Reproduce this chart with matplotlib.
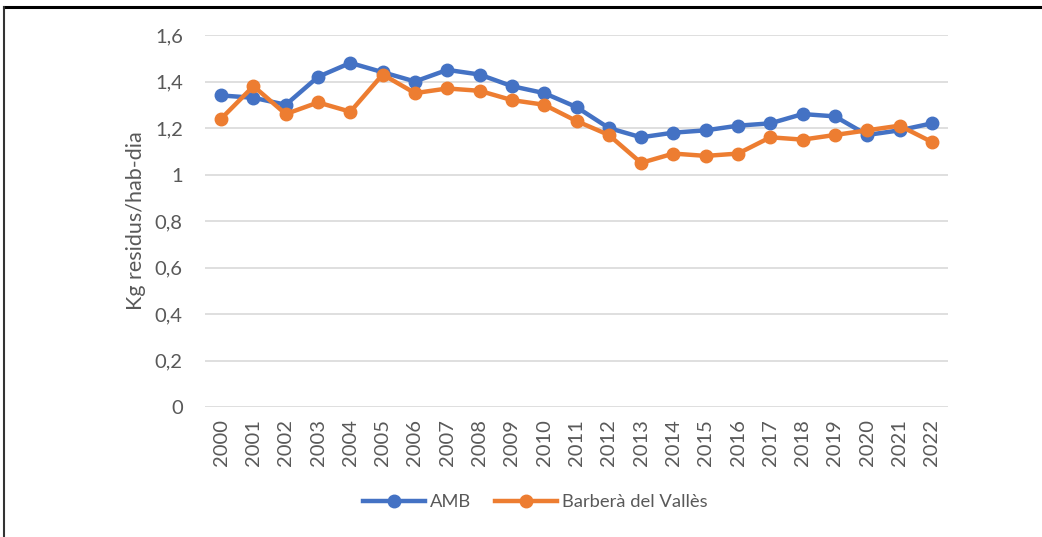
import matplotlib
matplotlib.use('Agg')
import matplotlib.pyplot as plt
from matplotlib.lines import Line2D

years = [str(y) for y in range(2000, 2023)]
amb = [1.34, 1.33, 1.30, 1.42, 1.48, 1.44, 1.40, 1.45, 1.43, 1.38, 1.35, 1.29,
       1.20, 1.16, 1.18, 1.19, 1.21, 1.22, 1.26, 1.25, 1.17, 1.19, 1.22]
barbera = [1.24, 1.38, 1.26, 1.31, 1.27, 1.43, 1.35, 1.37, 1.36, 1.32, 1.30, 1.23,
           1.17, 1.05, 1.09, 1.08, 1.09, 1.16, 1.15, 1.17, 1.19, 1.21, 1.14]
yticks = [0, 0.2, 0.4, 0.6, 0.8, 1.0, 1.2, 1.4, 1.6]
ytick_labels = ['0', '0,2', '0,4', '0,6', '0,8', '1', '1,2', '1,4', '1,6']

plt.rcParams['font.family'] = ['Lato', 'DejaVu Sans']
grey = '#595959'

fig = plt.figure(figsize=(10.42, 5.37), dpi=100)
ax = fig.add_axes([205 / 1042, 1 - 407 / 537, 743 / 1042, 372 / 537])

x = list(range(len(years)))
ax.plot(x, amb, color='#4472C4', lw=3.2, marker='o', ms=9, label='AMB')
ax.plot(x, barbera, color='#ED7D31', lw=3.2, marker='o', ms=9, label='Barberà del Vallès')

ax.set_xlim(-0.5, len(years) - 0.5)
ax.set_ylim(0, 1.6)
ax.set_yticks(yticks)
ax.set_yticklabels(ytick_labels)
ax.set_xticks(x)
ax.set_xticklabels(years, rotation=90)
ax.tick_params(axis='both', length=0, colors=grey, labelsize=14.5)
ax.tick_params(axis='y', pad=16)
ax.tick_params(axis='x', pad=9)
ax.grid(axis='y', color='#d9d9d9', lw=1.2)
ax.set_axisbelow(True)
for s in ax.spines.values():
    s.set_visible(False)

ax.set_ylabel('Kg residus/hab-dia', color=grey, fontsize=15.5, labelpad=6)

fig.legend(loc='center', bbox_to_anchor=(535 / 1042, 1 - 502 / 537), ncol=2,
           frameon=False, fontsize=13.2, labelcolor=grey, handlelength=3.4,
           columnspacing=1.3, handletextpad=0.25)

# page border from the source document
fig.add_artist(Line2D([4 / 1042, 1], [1 - 7 / 537, 1 - 7 / 537], color='black', lw=2.2))
fig.add_artist(Line2D([4 / 1042, 4 / 1042], [0, 1 - 7 / 537], color='#333333', lw=1.5))

fig.savefig('out.png', dpi=100)
